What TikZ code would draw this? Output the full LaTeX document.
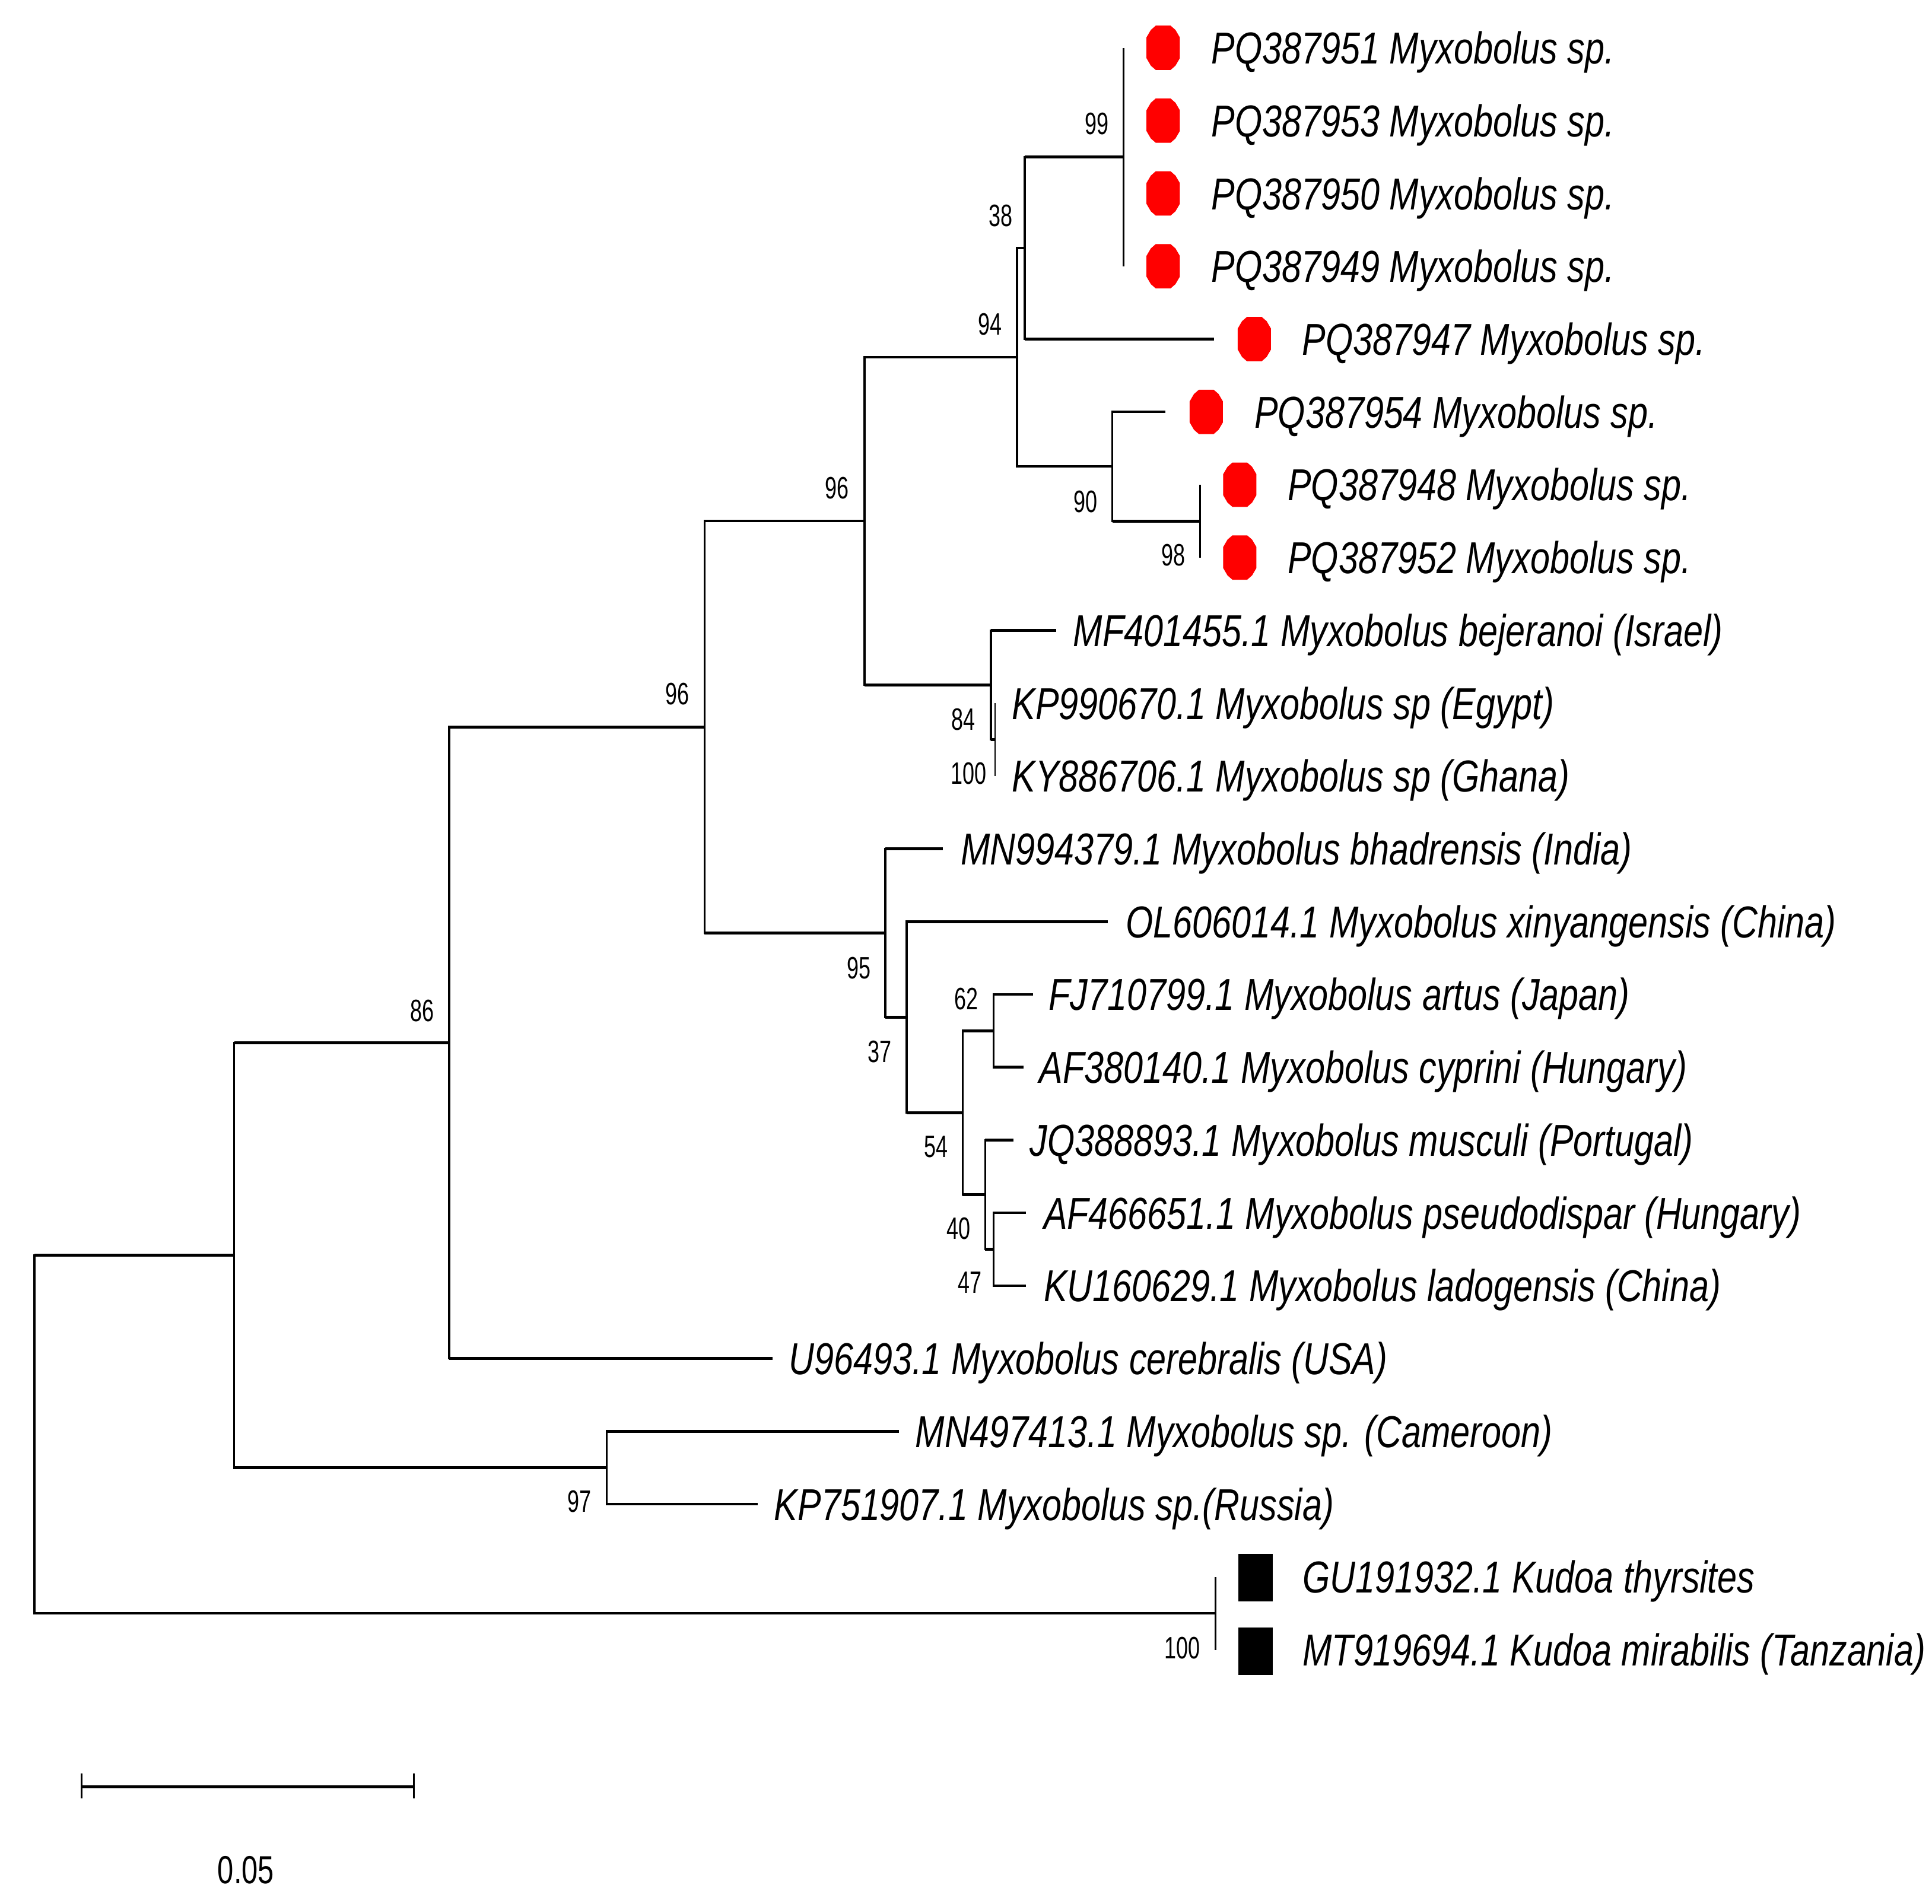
\documentclass[tikz,border=0pt]{standalone}
\usepackage{fontspec}
\setmainfont{Liberation Sans}
\newfontfamily\labfont[FakeStretch=0.787]{Liberation Sans}
\newfontfamily\bsfont[FakeStretch=0.69]{Liberation Sans}
\newfontfamily\scfont[FakeStretch=0.74]{Liberation Sans}
\definecolor{mkred}{RGB}{255,0,0}
\newcommand\redmark[1]{\fill[mkred] (#1) +(-6,-18) -- +(6,-18) -- +(10,-14.5) -- +(13.5,-8.5) -- +(13.5,8.5) -- +(10,14.5) -- +(6,18) -- +(-6,18) -- +(-10,14.5) -- +(-13.5,8.5) -- +(-13.5,-8.5) -- +(-10,-14.5) -- cycle;}
\newcommand\blackmark[1]{\fill[black] (#1) +(-14,-19.3) rectangle +(14,19.3);}
\newcommand\clade[3]{\draw[vbr] (#1 |- #2) -- (#1 |- #3); \draw[hbr] (#1 |- #2) -- (#2); \draw[hbr] (#1 |- #3) -- (#3);}
\begin{document}
\begin{tikzpicture}[x=1pt,y=-1pt,
  hbr/.style={line width=2.2pt},
  vbr/.style={line width=1.8pt, line cap=rect},
  thinbr/.style={line width=1.4pt},
  leaf/.style={anchor=base west, inner sep=0pt, font={\labfont\itshape\fontsize{36.3}{40}\selectfont}},
  bs/.style={inner sep=0pt, font={\bsfont\fontsize{25.1}{28}\selectfont}}]
\useasboundingbox[fill=white] (0,0) rectangle (1568,1545);
% leaf tips
\coordinate (t1) at (911.9,38.8);
\coordinate (t2) at (911.9,97.9);
\coordinate (t3) at (911.9,157.0);
\coordinate (t4) at (911.9,216.1);
\coordinate (t5) at (985.1,275.2);
\coordinate (t6) at (945.9,334.3);
\coordinate (t7) at (973.9,393.4);
\coordinate (t8) at (973.9,452.5);
\coordinate (t9) at (857,511.6);
\coordinate (t10) at (807.6,570.7);
\coordinate (t11) at (807.6,629.8);
\coordinate (t12) at (765.4,688.9);
\coordinate (t13) at (899.3,748.0);
\coordinate (t14) at (838.3,807.1);
\coordinate (t15) at (830.9,866.2);
\coordinate (t16) at (822.4,925.3);
\coordinate (t17) at (832.6,984.4);
\coordinate (t18) at (832.6,1043.5);
\coordinate (t19) at (627,1102.6);
\coordinate (t20) at (729.6,1161.7);
\coordinate (t21) at (615,1220.8);
\coordinate (t22) at (986.3,1279.9);
\coordinate (t23) at (986.3,1339.0);
% internal nodes
\coordinate (n99) at (911.9,127.45);
\coordinate (n38) at (831.5,201.3);
\coordinate (n98) at (973.9,422.95);
\coordinate (n90) at (902.7,378.6);
\coordinate (n94) at (825.4,289.95);
\coordinate (n100a) at (807.6,600.25);
\coordinate (n84) at (804.2,555.9);
\coordinate (n96a) at (701.5,422.9);
\coordinate (n47) at (806.4,1013.95);
\coordinate (n40) at (799.6,969.6);
\coordinate (n62) at (806.4,836.65);
\coordinate (n54) at (781.3,903.1);
\coordinate (n37) at (735.7,825.55);
\coordinate (n95) at (718.6,757.2);
\coordinate (n96b) at (571.8,590.05);
\coordinate (n86) at (364.7,846.3);
\coordinate (n97) at (492.4,1191.25);
\coordinate (n190) at (190,1018.8);
\coordinate (nK) at (986.3,1309.45);
\coordinate (root) at (28,1164.1);
% zero-length clades
\draw[thinbr] (t1) -- (t4);
\draw[thinbr] (t7) -- (t8);
\draw[thinbr] (t10) -- (t11);
\draw[thinbr] (t22) -- (t23);
% binary clades
\clade{n38}{n99}{t5}
\clade{n90}{t6}{n98}
\clade{n94}{n38}{n90}
\clade{n84}{t9}{n100a}
\clade{n96a}{n94}{n84}
\clade{n47}{t17}{t18}
\clade{n40}{t16}{n47}
\clade{n62}{t14}{t15}
\clade{n54}{n62}{n40}
\clade{n37}{t13}{n54}
\clade{n95}{t12}{n37}
\clade{n96b}{n96a}{n95}
\clade{n86}{n96b}{t19}
\clade{n97}{t20}{t21}
\clade{n190}{n86}{n97}
\clade{root}{n190}{nK}
% markers
\coordinate (m1) at (944,38.8);
\coordinate (m2) at (944,97.9);
\coordinate (m3) at (944,157.0);
\coordinate (m4) at (944,216.1);
\coordinate (m5) at (1018,275.2);
\coordinate (m6) at (979,334.3);
\coordinate (m7) at (1006.2,393.4);
\coordinate (m8) at (1006.2,452.5);
\coordinate (k22) at (1019,1280.6);
\coordinate (k23) at (1019,1340.1);
\redmark{m1}\redmark{m2}\redmark{m3}\redmark{m4}
\redmark{m5}\redmark{m6}\redmark{m7}\redmark{m8}
\blackmark{k22}\blackmark{k23}
% leaf labels
\node[leaf] (l1) at (983,51.8) {PQ387951 Myxobolus sp.};
\node[leaf] (l2) at (983,110.9) {PQ387953 Myxobolus sp.};
\node[leaf] (l3) at (983,170.0) {PQ387950 Myxobolus sp.};
\node[leaf] (l4) at (983,229.1) {PQ387949 Myxobolus sp.};
\node[leaf] (l5) at (1056.8,288.2) {PQ387947 Myxobolus sp.};
\node[leaf] (l6) at (1018,347.3) {PQ387954 Myxobolus sp.};
\node[leaf] (l7) at (1045,406.4) {PQ387948 Myxobolus sp.};
\node[leaf] (l8) at (1045,465.5) {PQ387952 Myxobolus sp.};
\node[leaf] (l9) at (870.8,524.6) {MF401455.1 Myxobolus bejeranoi (Israel)};
\node[leaf] (l10) at (821.2,583.7) {KP990670.1 Myxobolus sp (Egypt)};
\node[leaf] (l11) at (821.2,642.8) {KY886706.1 Myxobolus sp (Ghana)};
\node[leaf] (l12) at (779.6,701.9) {MN994379.1 Myxobolus bhadrensis (India)};
\node[leaf] (l13) at (913.5,761.0) {OL606014.1 Myxobolus xinyangensis (China)};
\node[leaf] (l14) at (850.9,820.1) {FJ710799.1 Myxobolus artus (Japan)};
\node[leaf] (l15) at (843.4,879.2) {AF380140.1 Myxobolus cyprini (Hungary)};
\node[leaf] (l16) at (835.5,938.3) {JQ388893.1 Myxobolus musculi (Portugal)};
\node[leaf] (l17) at (846.9,997.4) {AF466651.1 Myxobolus pseudodispar (Hungary)};
\node[leaf] (l18) at (846.9,1056.5) {KU160629.1 Myxobolus ladogensis (China)};
\node[leaf] (l19) at (640,1115.6) {U96493.1 Myxobolus cerebralis (USA)};
\node[leaf] (l20) at (742.7,1174.7) {MN497413.1 Myxobolus sp. (Cameroon)};
\node[leaf] (l21) at (628.2,1233.8) {KP751907.1 Myxobolus sp.(Russia)};
\node[leaf] (l22) at (1057,1292.9) {GU191932.1 Kudoa thyrsites};
\node[leaf] (l23) at (1057,1352.0) {MT919694.1 Kudoa mirabilis (Tanzania)};
% bootstrap values
\node[bs] (b99) at (890,100.5) {99};
\node[bs] (b38) at (812,175) {38};
\node[bs] (b94) at (803.5,263) {94};
\node[bs] (b90) at (880.8,407) {90};
\node[bs] (b98) at (952.5,450.7) {98};
\node[bs] (b96a) at (679.3,396.3) {96};
\node[bs] (b84) at (781.6,584) {84};
\node[bs] (b100a) at (786,627.6) {100};
\node[bs] (b96b) at (549.8,563.3) {96};
\node[bs] (b95) at (697,785.5) {95};
\node[bs] (b37) at (714,853.7) {37};
\node[bs] (b62) at (784.2,810.6) {62};
\node[bs] (b54) at (759.7,931) {54};
\node[bs] (b40) at (777.9,997.3) {40};
\node[bs] (b47) at (787,1040.8) {47};
\node[bs] (b86) at (342.7,820.3) {86};
\node[bs] (b97) at (470.4,1218.5) {97};
\node[bs] (b100K) at (959.3,1337.8) {100};
% scale bar
\coordinate (s1) at (66.3,1450.3);
\coordinate (s2) at (335.8,1450.3);
\draw[hbr] (s1) -- (s2);
\draw[line width=1.5pt] (s1) +(0,-11) -- +(0,9.5);
\draw[line width=1.5pt] (s2) +(0,-11) -- +(0,9.5);
\node[inner sep=0pt, font={\scfont\fontsize{31.8}{34}\selectfont}] (sl) at (199.6,1517.7) {0.05};
\end{tikzpicture}
\end{document}
